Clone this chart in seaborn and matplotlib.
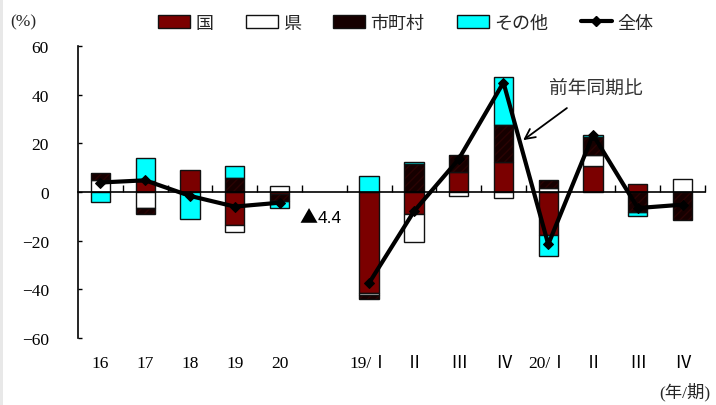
import numpy as np
import matplotlib
matplotlib.use("Agg")
import matplotlib.pyplot as plt
from matplotlib.patches import Patch, Rectangle
from matplotlib.lines import Line2D
import seaborn as sns

# Annual (16-20) and quarterly (19/I - 20/IV) contributions, in percent
categories = ["16", "17", "18", "19", "20", "",
              "19/Ⅰ", "Ⅱ", "Ⅲ", "Ⅳ", "20/Ⅰ", "Ⅱ", "Ⅲ", "Ⅳ"]
kuni = [0.0, 4.5, 9.1, -13.5, -1.0, 0.0,
        -41.5, -8.9, 8.2, 12.3, -17.7, 10.7, 3.4, 0.0]
ken = [4.8, -6.4, 0.0, -3.1, 2.3, 0.0,
       -0.7, -11.6, -1.8, -2.6, 1.8, 4.4, 0.0, 5.5]
shichoson = [2.9, -2.5, 0.0, 5.9, -2.6, 0.0,
             -1.6, 11.6, 7.1, 15.1, 3.3, 7.3, -8.2, -11.4]
sonota = [-4.1, 9.3, -10.9, 4.8, -3.1, 0.0,
          6.6, 0.7, 0.0, 20.0, -8.6, 0.9, -1.8, 0.0]
total = [3.9, 4.8, -1.6, -6.0, -4.4, np.nan,
         -37.4, -8.0, 13.5, 45.0, -21.5, 23.5, -6.6, -5.2]

series_names = ["国", "県", "市町村", "その他"]
series_colors = ["#7b0000", "#ffffff", "#160000", "#00ffff"]
series_values = [kuni, ken, shichoson, sonota]

sns.set_theme(style="white")
plt.rcParams["font.family"] = ["Liberation Serif", "Noto Sans CJK JP", "DejaVu Sans"]
plt.rcParams["font.size"] = 12.5
plt.rcParams["axes.unicode_minus"] = True

fig = plt.figure(figsize=(7.16, 4.06), dpi=100)
ax = fig.add_axes([78 / 716, 1 - 339 / 406, (705 - 78) / 716, (339 - 47) / 406])

x = np.arange(len(categories))
width = 0.43
pos_base = np.zeros(len(categories))
neg_base = np.zeros(len(categories))
for name, color, vals in zip(series_names, series_colors, series_values):
    v = np.asarray(vals, dtype=float)
    bottoms = np.where(v >= 0, pos_base, neg_base)
    keep = v != 0
    if name == "市町村":
        ax.bar(x[keep], v[keep], width, bottom=bottoms[keep], color=color,
               edgecolor="#2a0303", hatch="////", linewidth=0, zorder=2)
        ax.bar(x[keep], v[keep], width, bottom=bottoms[keep], facecolor="none",
               edgecolor="#111111", linewidth=1.0, zorder=2.1)
    else:
        ax.bar(x[keep], v[keep], width, bottom=bottoms[keep], color=color,
               edgecolor="#111111", linewidth=1.0, zorder=2)
    pos_base = pos_base + np.where(v > 0, v, 0)
    neg_base = neg_base + np.where(v < 0, v, 0)

# Total line: annual and quarterly segments drawn separately
tot = np.asarray(total, dtype=float)
for seg in (slice(0, 5), slice(6, 14)):
    sns.lineplot(x=x[seg], y=tot[seg], ax=ax, color="black", linewidth=3.0,
                 marker="D", markersize=5, markeredgecolor="black", zorder=4)

ax.set_xlim(-0.5, len(categories) - 0.5)
ax.set_ylim(-60, 60)
ax.set_yticks(np.arange(-60, 61, 20))
ax.tick_params(axis="y", direction="in", length=3, width=1.0, pad=21,
               left=True, colors="black", labelsize=12.5)

ax.spines["top"].set_visible(False)
ax.spines["right"].set_visible(False)
ax.spines["left"].set_color("black")
ax.spines["left"].set_linewidth(1.2)
ax.spines["bottom"].set_position(("data", 0))
ax.spines["bottom"].set_color("black")
ax.spines["bottom"].set_linewidth(1.2)
ax.set_xticks([])
ax.set_xticks(np.arange(0.5, len(categories), 1.0), minor=True)
ax.tick_params(axis="x", which="minor", direction="in", length=5, width=1.0,
               bottom=True, labelbottom=False, colors="black")

# Category labels along the bottom of the plot
sec = ax.secondary_xaxis("bottom")
lab_pos = [i for i, c in enumerate(categories) if c]
sec.set_xticks(lab_pos, [categories[i] for i in lab_pos])
sec.tick_params(length=0, pad=12, labelsize=12.5, colors="black")
sec.spines["bottom"].set_visible(False)

ax.set_xlabel("")
ax.set_ylabel("")
ax.grid(False)

# Value note for the 2020 annual total (▲ marks a negative figure)
note_x, note_y = 4.45, -10.3
ax.text(note_x, note_y, "▲", ha="left", va="center", fontsize=13,
        family=["Noto Sans CJK JP", "DejaVu Sans"], color="black")
ax.annotate("4.4", xy=(note_x, note_y), xytext=(13, 0),
            textcoords="offset points", ha="left", va="center", fontsize=12.5,
            family=["Liberation Sans", "DejaVu Sans"], color="black")

ax.annotate("前年同期比", xy=(9.44, 21.3), xytext=(11.06, 43.2),
            ha="center", va="center", fontsize=13.5, color="#333333",
            family=["Noto Sans CJK JP", "DejaVu Sans"],
            arrowprops=dict(arrowstyle="->", color="black", lw=1.3,
                            shrinkA=9, shrinkB=0, mutation_scale=18))

fig.text(10 / 716, 1 - 22 / 406, "(%)", ha="left", va="center", fontsize=12.5)
fig.text(710 / 716, 1 - 392 / 406, "(年/期)", ha="right", va="center", fontsize=12.5)

handles = [Patch(facecolor=c, edgecolor="#111111", linewidth=1.0)
           for c in series_colors]
handles.append(Line2D([0], [0], color="black", linewidth=3.0, marker="D",
                      markersize=5))
fig.legend(handles, series_names + ["全体"], loc="center", ncol=5,
           bbox_to_anchor=(406 / 716, 1 - 24 / 406), frameon=False,
           handlelength=1.75, handleheight=0.75, handletextpad=0.3,
           columnspacing=1.8, fontsize=13)

# Thin grey frame strip on the left edge
fig.patches.append(Rectangle((0, 0), 3 / 716, 1, transform=fig.transFigure,
                             facecolor="#e8e8e8", edgecolor="none"))

fig.savefig("out.png", dpi=100)
